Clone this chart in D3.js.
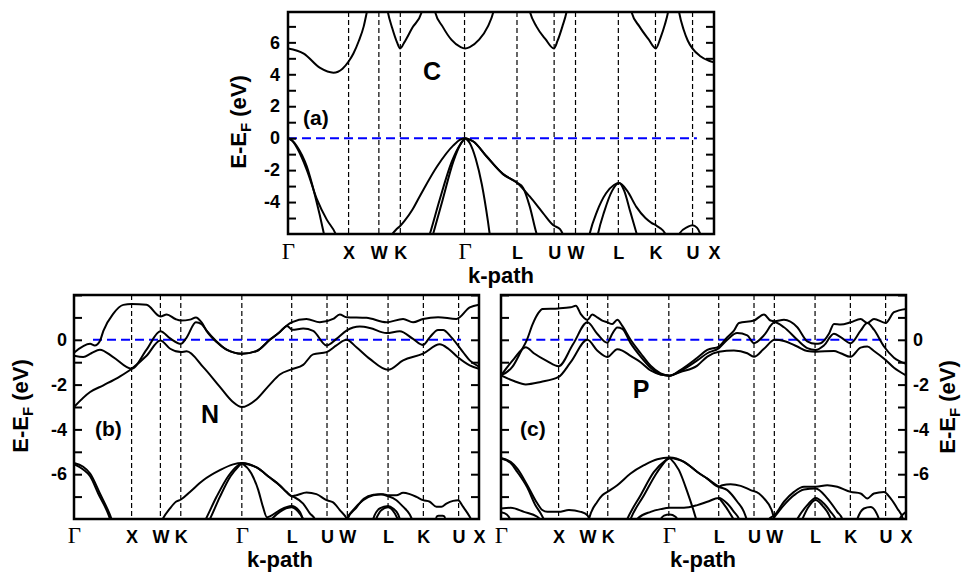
<!DOCTYPE html>
<html>
<head>
<meta charset="utf-8">
<script src="https://cdn.jsdelivr.net/npm/d3@7"></script>
<style>
  body { margin: 0; background: #fff; }
  svg text { fill: #000; }
</style>
</head>
<body>
<svg id="chart" width="968" height="579"></svg>
<script>
// k-path (distance along the path) and the high-symmetry labels
var kPath = [0, 1, 1.5, 1.854, 2.914, 3.780, 4.393, 4.746, 5.453, 6.066, 6.678, 7.032];
var kLabels = ["Γ", "X", "W", "K", "Γ", "L", "U", "W", "L", "K", "U", "X"];

var yTicksC = [-4, -2, 0, 2, 4, 6];
var yTicksNP = [-6, -4, -2, 0];

// ---- panel (a) C : bands as [k, E] ----
var bandsC = [
  [[0,5.62],[0.26,5.3],[0.53,4.4],[0.75,4.1],[0.9,4.35],[1.0,4.8],[1.08,5.3],[1.17,6.1],[1.25,7.0],[1.302,7.9],[1.36,9],[1.6,9],
   [1.648,7.9],[1.72,6.9],[1.8,6.0],[1.851,5.62],[1.92,6.0],[2.05,6.9],[2.208,7.9],[2.26,9],[2.38,9],
   [2.428,7.9],[2.55,7.0],[2.7,6.15],[2.85,5.7],[2.923,5.62],[3.0,5.7],[3.15,6.15],[3.3,7.0],[3.39,7.9],[3.45,9],[3.93,9],
   [3.994,7.9],[4.1,7.0],[4.25,6.2],[4.39,5.62],[4.45,6.1],[4.53,7.0],[4.598,7.9],[4.65,9],[5.62,9],
   [5.67,7.9],[5.8,7.0],[5.95,6.2],[6.071,5.62],[6.15,6.3],[6.22,7.1],[6.274,7.9],[6.32,9],[6.41,9],
   [6.455,7.9],[6.53,6.8],[6.6,6.1],[6.675,5.62],[6.8,5.15],[6.95,4.85],[7.032,4.75]],
  [[0,0],[0.07,-0.15],[0.15,-0.52],[0.31,-1.77],[0.45,-3.65],[0.59,-5.94],[0.62,-6.5]],
  [[0,0],[0.07,-0.17],[0.15,-0.62],[0.31,-1.98],[0.48,-3.85],[0.64,-5.1],[0.78,-5.94],[0.82,-6.3]],
  [[1.6,-6.6],[1.7,-6.1],[1.79,-5.7],[1.851,-5.5],[1.92,-5.2],[2.05,-4.5],[2.18,-3.6],[2.46,-1.77],[2.73,-0.45],[2.85,-0.08],[2.923,0],
   [3.06,-0.21],[3.28,-1.15],[3.55,-2.25],[3.785,-2.8],[3.99,-3.65],[4.21,-4.69],[4.38,-5.45],[4.49,-5.7],[4.56,-6.2]],
  [[2.923,0],[3.06,-0.21],[3.28,-1.15],[3.55,-2.25],[3.785,-2.8],[3.88,-3.1],[3.99,-4.27],[4.1,-5.94],[4.13,-6.3]],
  [[2.3,-6.5],[2.346,-5.94],[2.5,-3.9],[2.7,-1.5],[2.85,-0.35],[2.923,0]],
  [[2.36,-6.5],[2.4,-5.94],[2.55,-3.9],[2.73,-1.45],[2.86,-0.3],[2.923,0]],
  [[2.923,0],[3.0,-0.3],[3.1,-1.3],[3.2,-2.9],[3.3,-5.2],[3.34,-6.3]],
  [[4.95,-6.5],[4.983,-5.94],[5.1,-4.6],[5.25,-3.45],[5.38,-2.93],[5.466,-2.81],[5.6,-3.3],[5.75,-4.3],[5.9,-5.0],[6.0,-5.3],[6.071,-5.45],[6.14,-5.62],[6.22,-5.94],[6.26,-6.3]],
  [[5.09,-6.5],[5.12,-5.94],[5.22,-4.6],[5.35,-3.3],[5.466,-2.81],[5.55,-3.3],[5.65,-4.6],[5.752,-5.94],[5.78,-6.3]],
  [[6.44,-6.3],[6.47,-5.94],[6.6,-5.55],[6.675,-5.45],[6.75,-5.6],[6.8,-5.94],[6.83,-6.3]]
];

// ---- panel (b) N ----
var bandsN = [
  [[0,-3.0],[0.28,-2.33],[0.51,-2.03],[0.8,-1.63],[1.0,-1.29],[1.26,-0.71],[1.5,-0.03],[1.67,-0.4],[1.857,-0.55],[1.955,-0.51],[2.244,-1.22],[2.533,-2.1],[2.75,-2.75],[2.914,-3.0],
   [3.17,-2.65],[3.4,-2.0],[3.574,-1.55],[3.777,-1.32],[3.979,-1.12],[4.152,-0.65],[4.384,-0.55],[4.557,-0.25],[4.731,0.0],[4.904,-0.33],[5.136,-0.85],[5.453,-1.34],[5.714,-0.92],[6.061,-0.62],[6.35,-0.2],[6.5,-0.4],[6.66,-0.77],[6.87,-1.14],[7.032,-1.29]],
  [[0,-0.71],[0.16,-0.77],[0.3,-0.6],[0.45,-0.44],[0.68,-0.77],[1.0,-1.29],[1.26,-0.44],[1.5,0.38],[1.67,0.06],[1.857,-0.18],[1.955,0.1],[2.117,0.78],[2.215,0.7],[2.302,0.41],[2.475,-0.07],[2.649,-0.44],[2.914,-0.62],
   [3.17,-0.5],[3.4,0.0],[3.574,0.35],[3.7,0.62],[3.79,0.45],[3.979,0.5],[4.152,0.4],[4.384,-0.25],[4.557,0.04],[4.731,0.41],[4.962,0.59],[5.136,0.53],[5.425,0.3],[5.656,0.38],[5.887,0.04],[6.061,-0.23],[6.177,0.11],[6.321,0.44],[6.408,0.44],[6.553,0.11],[6.755,-0.55],[6.871,-0.92],[7.032,-1.2]],
  [[0,-0.58],[0.28,-0.18],[0.36,-0.25],[0.45,-0.05],[0.51,0.4],[0.68,1.16],[0.856,1.56],[1.0,1.6],[1.26,1.56],[1.5,1.04],[1.61,1.13],[1.76,0.93],[1.857,0.86],[2.013,0.9],[2.117,1.0],[2.215,0.78],[2.302,0.4],[2.475,-0.1],[2.649,-0.44],[2.914,-0.62],
   [3.17,-0.5],[3.4,0.0],[3.574,0.35],[3.7,0.65],[3.777,0.78],[4.037,0.93],[4.268,0.78],[4.499,0.93],[4.615,1.13],[4.731,1.01],[5.078,0.98],[5.425,0.78],[5.714,0.93],[5.887,0.78],[6.061,0.93],[6.321,1.01],[6.64,0.93],[6.871,1.45],[7.032,1.57]],
  [[0,-5.5],[0.16,-5.67],[0.28,-5.97],[0.45,-6.86],[0.625,-7.82],[0.68,-8.2]],
  [[0,-5.55],[0.16,-5.79],[0.28,-6.09],[0.42,-6.86],[0.6,-7.82],[0.65,-8.2]],
  [[1.5,-8.2],[1.539,-8.0],[1.666,-7.53],[1.77,-7.23],[1.857,-7.13],[2.013,-6.79],[2.244,-6.27],[2.533,-5.82],[2.764,-5.56],[2.914,-5.5],[3.17,-5.7],[3.4,-6.15],[3.574,-6.5],[3.69,-6.8],[3.777,-6.98],
   [3.863,-6.94],[4.037,-6.82],[4.21,-6.89],[4.384,-7.16],[4.499,-7.26],[4.615,-7.6],[4.742,-8.0],[4.78,-8.2]],
  [[2.914,-5.5],[3.17,-5.7],[3.4,-6.15],[3.574,-6.5],[3.69,-6.8],[3.777,-6.98],[3.835,-7.04],[3.979,-7.31],[4.095,-7.75],[4.181,-8.0],[4.21,-8.2]],
  [[2.25,-8.2],[2.29,-8.0],[2.475,-7.01],[2.678,-6.09],[2.851,-5.6],[2.914,-5.5]],
  [[2.32,-8.2],[2.36,-8.0],[2.533,-7.01],[2.718,-6.09],[2.868,-5.62],[2.914,-5.5]],
  [[2.914,-5.5],[3.08,-5.97],[3.2,-6.71],[3.28,-7.45],[3.35,-7.92],[3.4,-7.88],[3.574,-7.6],[3.777,-7.42],[3.921,-7.68],[3.98,-8.05],[4.0,-8.2]],
  [[3.36,-8.2],[3.574,-7.68],[3.777,-7.48],[3.93,-7.8],[4.0,-8.1],[4.02,-8.2]],
  [[4.72,-8.2],[4.742,-8.0],[4.846,-7.6],[5.02,-7.16],[5.194,-6.94],[5.367,-6.89],[5.454,-6.94],[5.598,-6.94],[5.714,-6.83],[5.83,-6.89],[5.945,-7.01],[6.061,-7.16],[6.177,-7.23],[6.292,-7.45],[6.379,-7.45],[6.466,-7.31],[6.582,-7.19],[6.668,-7.16],[6.755,-7.45],[6.871,-7.9],[6.93,-8.2]],
  [[4.73,-8.2],[4.75,-8.0],[4.9,-7.5],[5.03,-7.1],[5.2,-6.92],[5.33,-6.9],[5.454,-6.98],[5.598,-7.16],[5.714,-7.45],[5.83,-7.8],[5.9,-8.2]],
  [[5.17,-8.2],[5.194,-8.0],[5.309,-7.53],[5.454,-7.42],[5.54,-7.53],[5.63,-7.8],[5.68,-8.2]],
  [[5.21,-8.2],[5.33,-7.62],[5.454,-7.48],[5.53,-7.6],[5.62,-8.0],[5.65,-8.2]],
  [[6.27,-8.2],[6.3,-7.88],[6.33,-7.86],[6.4,-7.86],[6.43,-7.88],[6.46,-8.2]]
];

// ---- panel (c) P ----
var bandsP = [
  [[0,-1.59],[0.225,-1.84],[0.43,-1.99],[0.69,-1.88],[1.0,-1.66],[1.21,-1.0],[1.5,0.0],[1.67,-0.48],[1.846,-0.77],[2.019,-0.42],[2.106,-0.48],[2.25,-0.72],[2.424,-1.0],[2.598,-1.37],[2.771,-1.55],[2.93,-1.6],
   [3.113,-1.44],[3.408,-1.15],[3.582,-0.75],[3.784,-0.53],[4.045,-0.48],[4.276,-0.6],[4.392,-0.76],[4.566,-0.4],[4.751,0.0],[4.913,-0.05],[5.144,-0.3],[5.318,-0.5],[5.463,-0.53],[5.781,-0.5],[5.897,-0.6],[6.07,-0.76],[6.244,-0.35],[6.36,-0.3],[6.476,-0.5],[6.678,-0.9],[6.823,-1.25],[7.032,-1.59]],
  [[0,-1.59],[0.225,-0.85],[0.43,-0.33],[0.57,-0.6],[0.8,-0.95],[1.0,-1.18],[1.25,-0.2],[1.5,0.78],[1.67,0.27],[1.846,-0.13],[1.932,0.27],[2.019,0.55],[2.106,0.49],[2.25,-0.15],[2.424,-0.75],[2.598,-1.25],[2.771,-1.55],[2.93,-1.6],
   [3.113,-1.4],[3.408,-0.92],[3.582,-0.6],[3.784,-0.37],[3.929,0.0],[4.1,0.3],[4.276,0.2],[4.392,-0.15],[4.566,0.2],[4.751,0.78],[4.913,0.56],[5.144,0.0],[5.318,-0.37],[5.463,-0.45],[5.607,-0.25],[5.781,0.27],[5.897,0.12],[6.07,-0.15],[6.244,0.41],[6.36,0.75],[6.476,0.45],[6.65,-0.3],[6.823,-0.8],[7.032,-1.07]],
  [[0,-1.59],[0.2,-1.2],[0.35,-0.5],[0.45,0.0],[0.55,0.7],[0.65,1.2],[0.72,1.38],[1.0,1.4],[1.21,1.45],[1.3,1.52],[1.383,1.16],[1.5,0.89],[1.585,1.13],[1.672,1.0],[1.759,0.86],[1.846,0.78],[1.932,0.7],[2.019,0.89],[2.106,0.62],[2.25,0.0],[2.424,-0.6],[2.598,-1.16],[2.771,-1.5],[2.93,-1.6],
   [3.113,-1.35],[3.408,-0.8],[3.582,-0.45],[3.784,-0.3],[3.929,0.12],[4.045,0.41],[4.132,0.75],[4.392,0.86],[4.566,1.13],[4.68,0.86],[4.751,0.83],[4.913,0.89],[5.144,0.56],[5.318,-0.07],[5.463,-0.18],[5.55,-0.15],[5.694,0.27],[5.781,0.71],[5.897,0.68],[6.07,0.78],[6.244,0.93],[6.36,0.75],[6.476,0.93],[6.678,0.75],[6.823,1.23],[7.032,1.38]],
  [[0,-5.27],[0.167,-5.45],[0.283,-5.75],[0.457,-6.49],[0.63,-7.3],[0.717,-7.6],[0.804,-7.68],[1.0,-7.68],[1.18,-7.6],[1.383,-7.68],[1.5,-7.83],[1.56,-8.2]],
  [[0,-5.3],[0.167,-5.5],[0.283,-5.9],[0.457,-6.6],[0.6,-7.4],[0.69,-7.75],[0.78,-8.2]],
  [[0,-7.53],[0.167,-7.5],[0.4,-7.68],[0.63,-7.9],[0.75,-8.2]],
  [[0,-7.7],[0.1,-7.8],[0.2,-8.2]],
  [[1.5,-8.3],[1.527,-8.0],[1.672,-7.23],[1.759,-6.94],[1.846,-6.79],[2.019,-6.49],[2.25,-5.97],[2.482,-5.6],[2.714,-5.33],[2.928,-5.26],[3.177,-5.45],[3.409,-5.9],[3.582,-6.2],[3.784,-6.56],
   [3.842,-6.49],[3.987,-6.45],[4.161,-6.52],[4.334,-6.71],[4.479,-6.86],[4.566,-7.08],[4.71,-7.68],[4.76,-8.2]],
  [[2.928,-5.26],[3.177,-5.45],[3.409,-5.9],[3.582,-6.2],[3.784,-6.56],[3.929,-6.71],[4.103,-7.23],[4.218,-7.68],[4.29,-8.2]],
  [[2.16,-8.2],[2.193,-8.0],[2.424,-6.94],[2.656,-5.9],[2.858,-5.38],[2.928,-5.26]],
  [[2.22,-8.2],[2.25,-8.0],[2.482,-6.94],[2.714,-5.9],[2.88,-5.35],[2.928,-5.26]],
  [[2.928,-5.26],[3.09,-5.82],[3.235,-6.79],[3.35,-7.68],[3.41,-8.2]],
  [[2.33,-8.2],[2.366,-8.0],[2.598,-7.68],[2.771,-7.56],[2.928,-7.5],[3.177,-7.5],[3.409,-7.38],[3.582,-7.23],[3.784,-7.06],[3.929,-7.31],[4.045,-7.68],[4.132,-8.0],[4.16,-8.2]],
  [[3.784,-7.06],[3.9,-7.45],[4.0,-7.85],[4.08,-8.2]],
  [[2.72,-8.2],[2.83,-7.85],[2.928,-7.8],[3.03,-7.9],[3.1,-8.2]],
  [[4.62,-8.2],[4.652,-8.0],[4.751,-7.83],[4.913,-7.23],[5.087,-6.79],[5.26,-6.56],[5.463,-6.56],[5.665,-6.49],[5.839,-6.56],[6.07,-6.79],[6.244,-6.86],[6.36,-7.08],[6.476,-6.86],[6.65,-6.79],[6.765,-7.08],[6.881,-7.53],[6.98,-8.0],[7.0,-8.2]],
  [[4.66,-8.2],[4.751,-7.9],[4.913,-7.38],[5.087,-6.94],[5.26,-6.68],[5.463,-6.64],[5.665,-7.08],[5.839,-7.68],[5.926,-8.0],[5.95,-8.2]],
  [[5.1,-8.2],[5.144,-8.0],[5.318,-7.38],[5.463,-7.06],[5.607,-7.31],[5.723,-7.68],[5.81,-8.0],[5.84,-8.2]],
  [[5.2,-8.2],[5.33,-7.5],[5.463,-7.15],[5.58,-7.4],[5.7,-7.85],[5.75,-8.2]],
  [[6.16,-8.2],[6.186,-8.0],[6.302,-7.53],[6.418,-7.46],[6.563,-8.0],[6.59,-8.2]],
  [[6.88,-8.2],[6.96,-7.85],[7.032,-7.68]]
];

// layout of the three panels
var panels = [
  { id: "a", l: 288, r: 714, t: 12, b: 234, yDom: [-6, 7.9], labels: yTicksC, bands: bandsC,
    axisSide: "left", pad: 8, titleX: 246, titleY: 122, kpathX: 501, kpathY: 283, kOff: 25,
    tag: "(a)", tagX: 303, tagY: 125, elem: "C", elemX: 432, elemY: 80, fermi: [0, 6.75] },
  { id: "b", l: 74, r: 479, t: 295, b: 519, yDom: [-8, 2], labels: yTicksNP, bands: bandsN,
    axisSide: "left", pad: 7, titleX: 28, titleY: 406, kpathX: 280, kpathY: 567, kOff: 24,
    tag: "(b)", tagX: 95, tagY: 436, elem: "N", elemX: 210, elemY: 423, fermi: [0.33, 6.72] },
  { id: "c", l: 501, r: 906, t: 295, b: 519, yDom: [-8, 2], labels: yTicksNP, bands: bandsP,
    axisSide: "right", pad: 7, titleX: 955, titleY: 407, kpathX: 703, kpathY: 567, kOff: 24,
    tag: "(c)", tagX: 520, tagY: 436, elem: "P", elemX: 641, elemY: 398, fermi: [0.37, 6.72] }
];

var SANS = '"Liberation Sans", Arial, Helvetica, sans-serif';
var SERIF = '"Liberation Serif", "Times New Roman", serif';

var svg = d3.select("#chart");
var defs = svg.append("defs");

function bold(sel, size) {
  return sel.style("font-family", SANS).style("font-weight", "bold").style("font-size", size + "px");
}

panels.forEach(function(p) {
  var x = d3.scaleLinear().domain([0, kPath[kPath.length - 1]]).range([p.l, p.r]);
  var y = d3.scaleLinear().domain(p.yDom).range([p.b, p.t]);
  var g = svg.append("g");

  defs.append("clipPath").attr("id", "clip-" + p.id)
    .append("rect").attr("x", p.l).attr("y", p.t)
    .attr("width", p.r - p.l).attr("height", p.b - p.t);

  // high-symmetry dashed lines
  g.selectAll("line.sym").data(kPath.slice(1, -1)).enter().append("line")
    .attr("x1", function(d) { return x(d); }).attr("x2", function(d) { return x(d); })
    .attr("y1", p.t).attr("y2", p.b)
    .attr("stroke", "#000").attr("stroke-width", 1.2)
    .attr("stroke-dasharray", "5,3");

  // Fermi level
  g.append("line")
    .attr("x1", x(p.fermi[0])).attr("x2", x(p.fermi[1]))
    .attr("y1", y(0)).attr("y2", y(0))
    .attr("stroke", "#0000ff").attr("stroke-width", 2)
    .attr("stroke-dasharray", "9,5");

  // bands
  var line = d3.line()
    .x(function(d) { return x(d[0]); })
    .y(function(d) { return y(d[1]); })
    .curve(d3.curveMonotoneX);

  g.append("g").attr("clip-path", "url(#clip-" + p.id + ")")
    .selectAll("path").data(p.bands).enter().append("path")
    .attr("d", line)
    .attr("fill", "none").attr("stroke", "#000").attr("stroke-width", 2)
    .attr("stroke-linejoin", "round");

  // y ticks every 1 eV on both sides, labels every 2 eV
  var allTicks = d3.range(Math.ceil(p.yDom[0]) + 1, Math.floor(p.yDom[1]) + 1);
  var fmt = function(d) { return p.labels.indexOf(d) >= 0 ? String(d) : ""; };
  var none = function() { return ""; };

  var leftAxis = d3.axisLeft(y).tickValues(allTicks).tickSize(-8)
    .tickPadding(p.pad).tickFormat(p.axisSide === "left" ? fmt : none);
  var rightAxis = d3.axisRight(y).tickValues(allTicks).tickSize(-8)
    .tickPadding(p.pad).tickFormat(p.axisSide === "right" ? fmt : none);

  [[leftAxis, p.l], [rightAxis, p.r]].forEach(function(a) {
    var ax = g.append("g").attr("transform", "translate(" + a[1] + ",0)").call(a[0]);
    ax.select(".domain").remove();
    ax.selectAll(".tick line").attr("stroke", "#000").attr("stroke-width", 2);
    bold(ax.selectAll("text"), 18).attr("fill", "#000");
  });

  // k-path labels
  var kAxis = d3.axisBottom(x).tickValues(kPath).tickSize(0)
    .tickFormat(function(d, i) { return kLabels[i]; });
  var kx = g.append("g").attr("transform", "translate(0," + p.b + ")").call(kAxis);
  kx.select(".domain").remove();
  kx.selectAll("text")
    .attr("y", p.kOff).attr("dy", 0).attr("fill", "#000")
    .each(function(d, i) {
      var t = d3.select(this);
      if (kLabels[i] === "Γ") {
        t.style("font-family", SERIF).style("font-weight", "normal").style("font-size", "23px");
      } else {
        bold(t, 18);
      }
    });

  // frame
  g.append("rect").attr("x", p.l).attr("y", p.t)
    .attr("width", p.r - p.l).attr("height", p.b - p.t)
    .attr("fill", "none").attr("stroke", "#000").attr("stroke-width", 2.5);

  // axis titles
  bold(g.append("text"), 22).attr("x", p.kpathX).attr("y", p.kpathY)
    .attr("text-anchor", "middle").text("k-path");

  var yt = bold(g.append("text"), 22)
    .attr("transform", "translate(" + p.titleX + "," + p.titleY + ") rotate(-90)")
    .attr("text-anchor", "middle");
  yt.append("tspan").text("E-E");
  yt.append("tspan").style("font-size", "15px").attr("dy", 5).text("F");
  yt.append("tspan").attr("dy", -5).text(" (eV)");

  // panel tag and element
  bold(g.append("text"), 21).attr("x", p.tagX).attr("y", p.tagY).text(p.tag);
  bold(g.append("text"), 25).attr("x", p.elemX).attr("y", p.elemY)
    .attr("text-anchor", "middle").text(p.elem);
});
</script>
</body>
</html>
